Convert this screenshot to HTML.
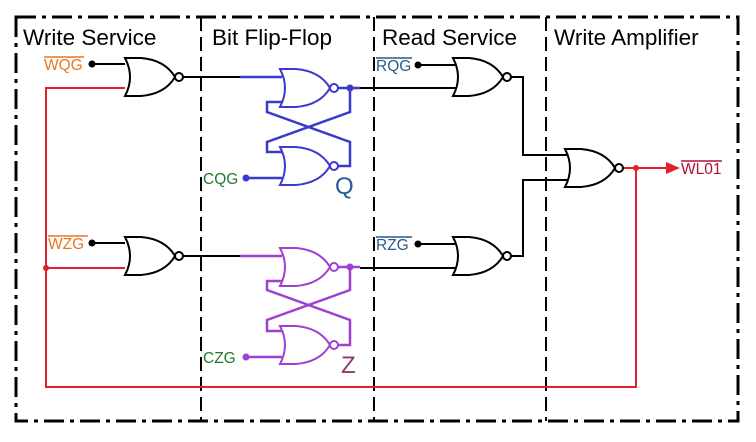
<!DOCTYPE html>
<html><head><meta charset="utf-8"><style>
html,body{margin:0;padding:0;background:#fff;width:756px;height:442px;overflow:hidden}
svg{display:block}
text{font-family:"Liberation Sans",sans-serif}
</style></head><body>
<svg width="756" height="442" viewBox="0 0 756 442" xmlns="http://www.w3.org/2000/svg">
<defs>
<g id="g" fill="#fff" stroke-width="2">
<path d="M0 0 L16 0 Q40 2 50 19 Q40 36 16 38 L0 38 Q10 19 0 0 Z"/>
<circle cx="54" cy="19" r="4"/>
</g>
</defs>
<g fill="none" stroke="#000" stroke-width="3" stroke-dasharray="20 6 4 6">
<rect x="16" y="17" width="722" height="404"/>
</g>
<g fill="none" stroke="#000" stroke-width="2" stroke-dasharray="14 6">
<line x1="201" y1="17" x2="201" y2="421"/>
<line x1="374" y1="17" x2="374" y2="421"/>
<line x1="546" y1="17" x2="546" y2="421"/>
</g>
<g font-size="22.5" fill="#000">
<text x="23" y="45">Write Service</text>
<text x="212" y="45">Bit Flip-Flop</text>
<text x="382" y="45">Read Service</text>
<text x="554" y="45">Write Amplifier</text>
</g>
<g fill="none" stroke="#e0202a" stroke-width="2">
<polyline points="125,88 46,88 46,387 636,387 636,168"/>
<line x1="46" y1="268" x2="125" y2="268"/>
<line x1="622" y1="168" x2="668" y2="168"/>
</g>
<polygon points="666,162 680,168 666,174" fill="#e0202a"/>
<circle cx="46" cy="268" r="3" fill="#e0202a"/>
<circle cx="636" cy="168" r="3" fill="#e0202a"/>
<g fill="none" stroke="#000" stroke-width="2">
<line x1="92" y1="64" x2="125" y2="64"/>
<line x1="92" y1="243" x2="125" y2="243"/>
<line x1="182" y1="77" x2="240" y2="77"/>
<line x1="182" y1="256" x2="240" y2="256"/>
<line x1="360" y1="88" x2="456" y2="88"/>
<line x1="360" y1="268" x2="456" y2="268"/>
<line x1="418" y1="65" x2="455" y2="65"/>
<line x1="418" y1="244" x2="455" y2="244"/>
<polyline points="510,77 523,77 523,155 568,155"/>
<polyline points="510,256 523,256 523,180 568,180"/>
</g>
<g fill="#000"><circle cx="92" cy="64" r="3.5"/><circle cx="92" cy="243" r="3.5"/><circle cx="418" cy="65" r="3.5"/><circle cx="418" cy="244" r="3.5"/></g>
<use href="#g" x="125" y="58" stroke="#000"/>
<use href="#g" x="125" y="237" stroke="#000"/>
<use href="#g" x="453" y="58" stroke="#000"/>
<use href="#g" x="453" y="237" stroke="#000"/>
<use href="#g" x="565" y="149" stroke="#000"/>
<g fill="none" stroke="#3a3acc" stroke-width="2.5">
<line x1="240" y1="77" x2="282" y2="77"/>
<polyline points="282,102 267,102 267,112 350,142 350,166 338,166"/>
<polyline points="338,88 360,88"/>
<polyline points="350,88 350,112 267,142 267,152 282,152"/>
<line x1="246" y1="178" x2="282" y2="178"/>
</g>
<use href="#g" x="280" y="69" stroke="#3a3acc"/>
<use href="#g" x="280" y="147" stroke="#3a3acc"/>
<circle cx="350" cy="88" r="3.5" fill="#3a3acc"/><circle cx="246" cy="178" r="3.5" fill="#3a3acc"/>
<g fill="none" stroke="#a040d0" stroke-width="2.5">
<line x1="240" y1="256" x2="282" y2="256"/>
<polyline points="282,281 267,281 267,290 350,320 350,345 338,345"/>
<polyline points="338,267 360,267"/>
<polyline points="350,267 350,290 267,320 267,331 282,331"/>
<line x1="246" y1="357" x2="282" y2="357"/>
</g>
<use href="#g" x="280" y="248" stroke="#a040d0"/>
<use href="#g" x="280" y="326" stroke="#a040d0"/>
<circle cx="350" cy="267" r="3.5" fill="#a040d0"/><circle cx="246" cy="357" r="3.5" fill="#a040d0"/>
<g font-size="15.5">
<text x="44" y="70" fill="#e87722">WQG</text><line x1="44" y1="57" x2="84" y2="57" stroke="#e87722" stroke-width="1.5"/>
<text x="48" y="249" fill="#e87722">WZG</text><line x1="48" y1="236" x2="88" y2="236" stroke="#e87722" stroke-width="1.5"/>
<text x="203" y="184" fill="#1e7a2e">CQG</text>
<text x="203" y="363" fill="#1e7a2e">CZG</text>
<text x="376" y="71" fill="#2a5a8a">RQG</text><line x1="376" y1="58" x2="412" y2="58" stroke="#2a5a8a" stroke-width="1.5"/>
<text x="376" y="250" fill="#2a5a8a">RZG</text><line x1="376" y1="237" x2="412" y2="237" stroke="#2a5a8a" stroke-width="1.5"/>
<text x="681" y="174" fill="#b0103a">WL01</text><line x1="681" y1="161" x2="722" y2="161" stroke="#b0103a" stroke-width="1.5"/>
</g>
<text x="335" y="194" font-size="24" fill="#2a5a9a">Q</text>
<text x="341" y="373" font-size="24" fill="#8a3a6a">Z</text>
</svg>
</body></html>
